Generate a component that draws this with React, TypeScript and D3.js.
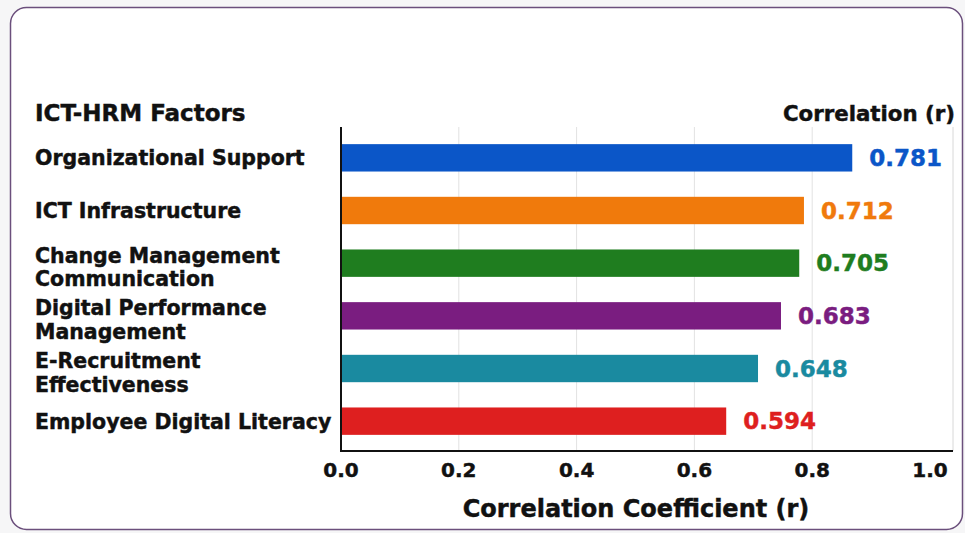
import React from "react";
import * as d3 from "d3";

const categories = [
  ["Organizational Support"],
  ["ICT Infrastructure"],
  ["Change Management", "Communication"],
  ["Digital Performance", "Management"],
  ["E-Recruitment", "Effectiveness"],
  ["Employee Digital Literacy"],
];
// printed value labels
const correlationLabels = ["0.781", "0.712", "0.705", "0.683", "0.648", "0.594"];
// bar lengths as drawn in the picture (on the axis scale)
const barLengths = [0.868, 0.786, 0.778, 0.747, 0.708, 0.654];
const colors = ["#0b56c8", "#f07a0c", "#1f7d1f", "#7a1d80", "#1a8aa0", "#de1f1f"];
const ticks = [0, 0.2, 0.4, 0.6, 0.8, 1.0];

const W = 965;
const H = 533;
const FONT = "'DejaVu Sans', Verdana, sans-serif";

export default function App() {
  const x = d3.scaleLinear().domain([0, 1]).range([341, 930]);
  const y = d3
    .scaleBand<number>()
    .domain(d3.range(categories.length))
    .range([131.5, 447.5])
    .paddingInner(0.48)
    .paddingOuter(0.24);
  const bh = y.bandwidth();
  const top = 127;
  const bottom = 451;
  const right = 953;
  const heavy = { stroke: "currentColor", strokeWidth: 0.45 } as const;

  return (
    <svg width={W} height={H} style={{ position: "absolute", left: 0, top: 0 }}>
      <rect x={0} y={0} width={W} height={H} fill="#f6f6f7" />
      <rect x={10.5} y={7.5} width={952} height={522} rx={16} fill="#ffffff" stroke="#6b4f7c" strokeWidth={1.5} />
      {/* grid */}
      {ticks.slice(1, -1).map((t) => (
        <line key={t} x1={x(t)} x2={x(t)} y1={top} y2={bottom} stroke="#e2e2e2" strokeWidth={1} />
      ))}
      <line x1={right} x2={right} y1={top} y2={bottom} stroke="#d8d8d8" strokeWidth={1} />
      {/* bars */}
      {barLengths.map((v, i) => (
        <rect key={i} x={x(0)} y={y(i)} width={x(v) - x(0)} height={bh} fill={colors[i]} />
      ))}
      {barLengths.map((v, i) => (
        <text
          key={"l" + i}
          x={x(v) + 17}
          y={(y(i) as number) + bh / 2}
          dy="0.36em"
          fill={colors[i]}
          color={colors[i]}
          fontFamily={FONT}
          fontWeight="bold"
          fontSize={23}
          {...heavy}
        >
          {correlationLabels[i]}
        </text>
      ))}
      {/* axes */}
      <line x1={x(0)} x2={x(0)} y1={top} y2={bottom + 1} stroke="#111" strokeWidth={2} />
      <line x1={x(0)} x2={right} y1={bottom} y2={bottom} stroke="#111" strokeWidth={2} />
      <g color="#111">
        {ticks.map((t) => (
          <text
            key={"t" + t}
            x={x(t)}
            y={470}
            dy="0.36em"
            textAnchor="middle"
            fontFamily={FONT}
            fontWeight="bold"
            fontSize={20}
            fill="#111"
            {...heavy}
          >
            {d3.format(".1f")(t)}
          </text>
        ))}
        {/* category labels */}
        {categories.map((lines, i) => {
          const cy = (y(i) as number) + bh / 2 + (lines.length > 1 ? 4 : 0);
          const lh = 23.5;
          return (
            <text key={"c" + i} fontFamily={FONT} fontWeight="bold" fontSize={20.5} fill="#111" {...heavy}>
              {lines.map((s, j) => (
                <tspan key={j} x={35} y={cy + (j - (lines.length - 1) / 2) * lh} dy="0.36em">
                  {s}
                </tspan>
              ))}
            </text>
          );
        })}
        <text x={35} y={121} fontFamily={FONT} fontWeight="bold" fontSize={23} fill="#111" {...heavy}>
          ICT-HRM Factors
        </text>
        <text x={955} y={121} textAnchor="end" fontFamily={FONT} fontWeight="bold" fontSize={21.3} fill="#111" {...heavy}>
          Correlation (r)
        </text>
        <text x={636} y={517} textAnchor="middle" fontFamily={FONT} fontWeight="bold" fontSize={24} fill="#111" {...heavy}>
          Correlation Coefficient (r)
        </text>
      </g>
    </svg>
  );
}
